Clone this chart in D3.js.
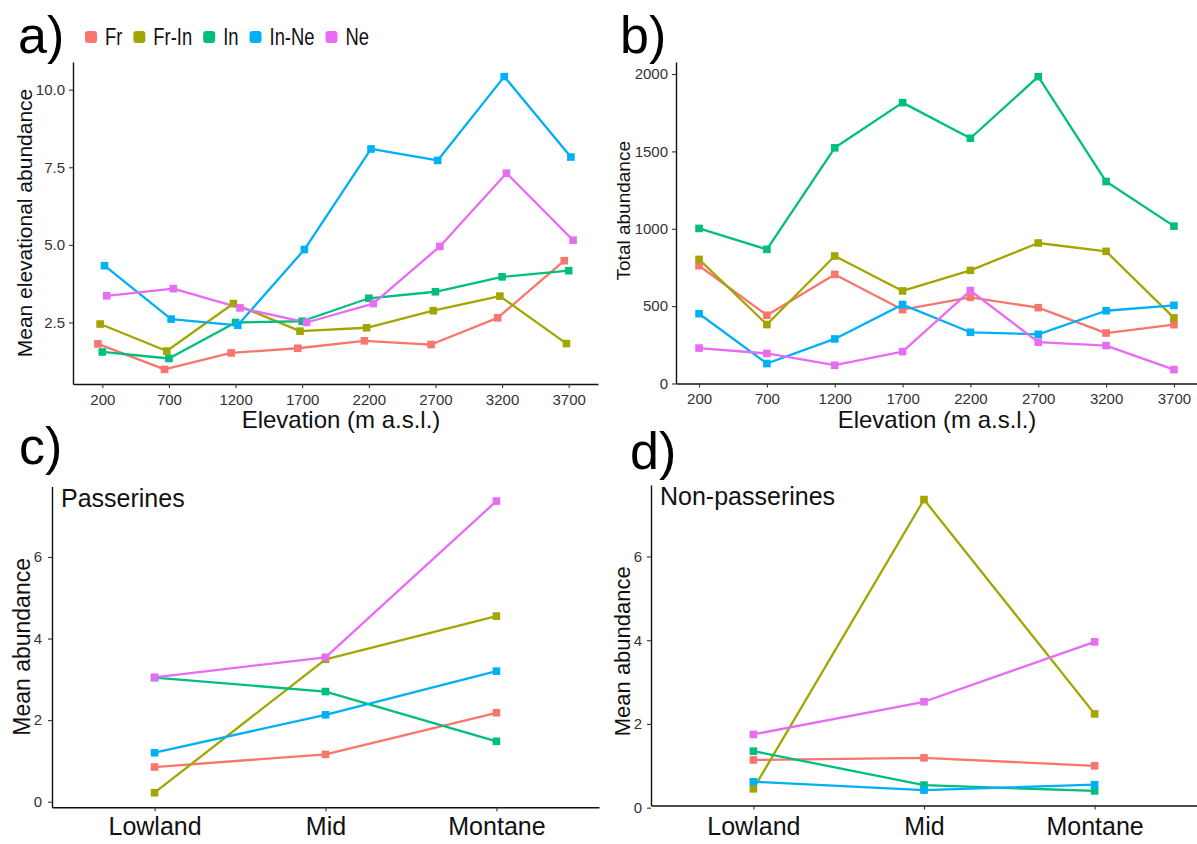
<!DOCTYPE html>
<html>
<head>
<meta charset="utf-8">
<script src="https://cdn.jsdelivr.net/npm/d3@7"></script>
<style>
  body { margin: 0; background: #fff; }
  svg { font-family: "Liberation Sans", Arial, sans-serif; }
</style>
</head>
<body>
<svg id="chart" width="1197" height="844"></svg>
<script>
// guilds and their ggplot hue colours
const guilds = ["Fr", "Fr-In", "In", "In-Ne", "Ne"];
const guildColors = ["#F8766D", "#A3A500", "#00BF7D", "#00B0F6", "#E76BF3"];

const elevations = ["200", "700", "1200", "1700", "2200", "2700", "3200", "3700"];
const zones = ["Lowland", "Mid", "Montane"];

// a) mean elevational abundance, one row per guild
const meanElevational = [
  [1.81, 0.99, 1.52, 1.67, 1.91, 1.79, 2.65, 4.49],
  [2.45, 1.58, 3.11, 2.22, 2.33, 2.88, 3.35, 1.82],
  [1.55, 1.34, 2.50, 2.54, 3.28, 3.49, 3.97, 4.17],
  [4.33, 2.61, 2.41, 4.85, 8.09, 7.72, 10.42, 7.83],
  [3.36, 3.59, 2.97, 2.50, 3.11, 4.95, 7.31, 5.15]
];

// b) total abundance
const totalAbundance = [
  [761, 441, 705, 477, 557, 490, 326, 380],
  [802, 381, 824, 598, 731, 908, 854, 424],
  [1002, 867, 1523, 1815, 1585, 1983, 1305, 1017],
  [451, 129, 288, 510, 331, 318, 470, 505],
  [229, 194, 118, 206, 600, 267, 245, 90]
];

// c) passerines, d) non-passerines (mean abundance per zone)
const passerines = [
  [0.85, 1.16, 2.18],
  [0.22, 3.49, 4.55],
  [3.04, 2.70, 1.48],
  [1.20, 2.13, 3.20],
  [3.05, 3.54, 7.37]
];
const nonPasserines = [
  [1.14, 1.19, 1.00],
  [0.45, 7.36, 2.24],
  [1.35, 0.54, 0.40],
  [0.62, 0.42, 0.55],
  [1.75, 2.53, 3.96]
];

const ticksA = [2.5, 5.0, 7.5, 10.0];
const ticksB = [0, 500, 1000, 1500, 2000];
const ticksCD = [0, 2, 4, 6];

const svg = d3.select("#chart");

// ggplot-like 5% expansion of a data extent
const expand = (rows, lo) => {
  const all = rows.flat();
  const mn = d3.min(all), mx = d3.max(all), pad = (mx - mn) * 0.05;
  return [lo === undefined ? mn - pad : lo, mx + pad];
};

const drawPanel = (cfg) => {
  const g = svg.append("g");

  const x = d3.scalePoint()
    .domain(cfg.cats)
    .range([cfg.left, cfg.right])
    .padding(cfg.pad);

  const y = d3.scaleLinear()
    .domain(cfg.domain)
    .range([cfg.bottom, cfg.top]);

  const dodge = d3.scalePoint().domain(guilds).range([-cfg.dodge, cfg.dodge]);

  const xa = g.append("g")
    .attr("transform", `translate(0, ${cfg.bottom})`)
    .call(d3.axisBottom(x).tickSize(4).tickSizeOuter(0).tickPadding(cfg.xPad));
  xa.selectAll("text").attr("font-size", cfg.xFont).attr("fill", cfg.xColor).attr("font-family", null);

  const ya = g.append("g")
    .attr("transform", `translate(${cfg.left}, 0)`)
    .call(d3.axisLeft(y).tickValues(cfg.ticks).tickFormat(cfg.fmt).tickSize(4).tickSizeOuter(0).tickPadding(cfg.yPad));
  ya.selectAll("text").attr("font-size", 15).attr("fill", "#333").attr("font-family", null);

  g.selectAll(".domain").attr("stroke", "#111").attr("stroke-width", 1.4);
  g.selectAll(".tick line").attr("stroke", "#333").attr("stroke-width", 1.1);

  const line = d3.line()
    .x((d) => x(d.cat) + dodge(d.guild))
    .y((d) => y(d.v));

  const series = guilds.map((gd, i) => ({
    guild: gd,
    color: guildColors[i],
    pts: cfg.data[i].map((v, j) => ({ guild: gd, cat: cfg.cats[j], v }))
  }));

  g.selectAll("path.series")
    .data(series)
    .enter()
    .append("path")
    .attr("class", "series")
    .attr("fill", "none")
    .attr("stroke", (s) => s.color)
    .attr("stroke-width", 2.3)
    .attr("stroke-linejoin", "round")
    .attr("d", (s) => line(s.pts));

  series.forEach((s) => {
    g.selectAll(null)
      .data(s.pts)
      .enter()
      .append("rect")
      .attr("x", (d) => x(d.cat) + dodge(d.guild) - 3.8)
      .attr("y", (d) => y(d.v) - 3.8)
      .attr("width", 7.6)
      .attr("height", 7.6)
      .attr("fill", s.color);
  });

  // axis titles
  g.append("text")
    .attr("transform", `translate(${cfg.yTitleX}, ${(cfg.top + cfg.bottom) / 2 + cfg.yTitleShift}) rotate(-90)`)
    .attr("text-anchor", "middle")
    .attr("font-size", cfg.yTitleFont)
    .attr("fill", "#111")
    .text(cfg.yTitle);

  if (cfg.xTitle) {
    g.append("text")
      .attr("x", cfg.xTitleX)
      .attr("y", 428)
      .attr("text-anchor", "middle")
      .attr("font-size", 24)
      .attr("fill", "#111")
      .text(cfg.xTitle);
  }

  if (cfg.inner) {
    g.append("text")
      .attr("x", cfg.left + 9)
      .attr("y", cfg.top + 20)
      .attr("font-size", 25)
      .attr("fill", "#111")
      .text(cfg.inner);
  }

  g.append("text")
    .attr("x", cfg.tagX)
    .attr("y", cfg.tagY)
    .attr("font-size", 52)
    .attr("fill", "#000")
    .text(cfg.tag);
};

drawPanel({
  tag: "a)", tagX: 18, tagY: 53,
  cats: elevations, data: meanElevational,
  left: 73, right: 598, top: 62, bottom: 384, pad: 0.44,
  domain: expand(meanElevational), ticks: ticksA, fmt: d3.format(".1f"),
  dodge: 4.4, xPad: 6, xFont: 15, xColor: "#333", yPad: 4,
  yTitle: "Mean elevational abundance", yTitleX: 32, yTitleFont: 21, yTitleShift: 0,
  xTitle: "Elevation (m a.s.l.)", xTitleX: 341
});

drawPanel({
  tag: "b)", tagX: 620, tagY: 53,
  cats: elevations, data: totalAbundance,
  left: 676, right: 1197, top: 62, bottom: 383.5, pad: 0.34,
  domain: expand(totalAbundance, 0), ticks: ticksB, fmt: d3.format("d"),
  dodge: 0, xPad: 6, xFont: 15, xColor: "#333", yPad: 4,
  yTitle: "Total abundance", yTitleX: 630, yTitleFont: 19, yTitleShift: -12,
  xTitle: "Elevation (m a.s.l.)", xTitleX: 937
});

drawPanel({
  tag: "c)", tagX: 19, tagY: 464,
  cats: zones, data: passerines,
  left: 52, right: 599, top: 486.5, bottom: 807.3, pad: 0.6,
  domain: expand(passerines), ticks: ticksCD, fmt: d3.format("d"),
  dodge: 0, xPad: 6, xFont: 25, xColor: "#111", yPad: 6,
  yTitle: "Mean abundance", yTitleX: 30, yTitleFont: 23, yTitleShift: 0,
  inner: "Passerines"
});

drawPanel({
  tag: "d)", tagX: 630, tagY: 469,
  cats: zones, data: nonPasserines,
  left: 651, right: 1197, top: 485, bottom: 805.5, pad: 0.6,
  domain: expand(nonPasserines), ticks: ticksCD, fmt: d3.format("d"),
  dodge: 0, xPad: 8, xFont: 25, xColor: "#111", yPad: 5,
  yTitle: "Mean abundance", yTitleX: 630, yTitleFont: 22, yTitleShift: 6,
  inner: "Non-passerines"
});

// legend across the top of panel a
const legend = svg.append("g");
let lx = 91;
guilds.forEach((gd, i) => {
  legend.append("rect")
    .attr("x", lx - 6).attr("y", 31)
    .attr("width", 12).attr("height", 12)
    .attr("rx", 3)
    .attr("fill", guildColors[i]);
  const t = legend.append("text")
    .attr("transform", `translate(${lx + 14}, 45) scale(0.8, 1)`)
    .attr("font-size", 23)
    .attr("fill", "#111")
    .text(gd);
  lx += 14 + t.node().getComputedTextLength() * 0.8 + 17;
});
</script>
</body>
</html>
